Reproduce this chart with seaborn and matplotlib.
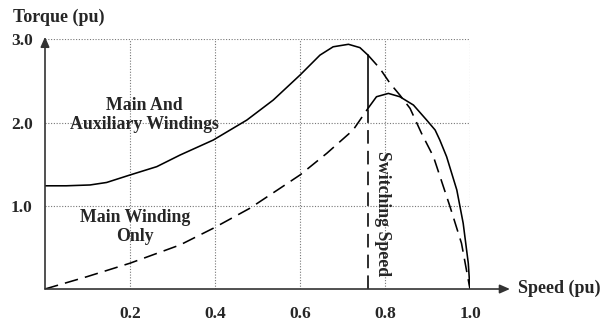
import numpy as np
import pandas as pd
import matplotlib
matplotlib.use("Agg")
import matplotlib.pyplot as plt
import seaborn as sns

# Torque-speed curves of a capacitor-start single-phase motor (per unit)
switch_speed = 0.76

# Main + auxiliary windings, up to the switching speed
both_speed = [0.0, 0.05, 0.106, 0.145, 0.2, 0.263, 0.318, 0.396, 0.475, 0.537,
              0.6, 0.647, 0.678, 0.714, 0.741, 0.76]
both_torque = [1.24, 1.24, 1.25, 1.28, 1.37, 1.47, 1.61, 1.79, 2.03, 2.27,
               2.57, 2.81, 2.91, 2.94, 2.90, 2.81]

# Main winding only, after switching (solid branch)
after_speed = [0.76, 0.78, 0.808, 0.835, 0.867, 0.898, 0.918, 0.929, 0.945,
               0.969, 0.984, 0.996, 1.0]
after_torque = [2.17, 2.31, 2.35, 2.31, 2.21, 2.03, 1.91, 1.79, 1.59,
                1.19, 0.79, 0.31, 0.0]

# Main winding only, dashed branch below the switching speed
main_lo_speed = [0.0, 0.1, 0.2, 0.318, 0.396, 0.482, 0.553, 0.6, 0.663,
                 0.725, 0.76]
main_lo_torque = [0.0, 0.15, 0.31, 0.53, 0.73, 0.97, 1.21, 1.37, 1.63,
                  1.91, 2.17]

# Main winding only, dashed branch above the switching speed
main_hi_speed = [0.76, 0.788, 0.812, 0.835, 0.859, 0.886, 0.914, 0.953, 0.98, 1.0]
main_hi_torque = [2.81, 2.65, 2.47, 2.33, 2.17, 1.87, 1.59, 0.99, 0.55, 0.0]

x_ticks = [0.2, 0.4, 0.6, 0.8, 1.0]
x_tick_labels = ["0.2", "0.4", "0.6", "0.8", "1.0"]
y_ticks = [1.0, 2.0, 3.0]
y_tick_labels = ["1.0", "2.0", "3.0"]

sns.set_theme(style="white")
plt.rcParams["font.family"] = ["Liberation Serif", "DejaVu Serif"]
plt.rcParams["font.weight"] = "bold"

fig = plt.figure(figsize=(6.0, 3.24), dpi=100)
ax = fig.add_axes([0.075, 0.108, 0.7083, 0.7707])
ax.set_xlim(0, 1.0)
ax.set_ylim(0, 3.0)

lw = 1.15
dash = (0, (8.5, 4.5))

sns.lineplot(x=both_speed, y=both_torque, ax=ax, color="black", lw=lw,
             sort=False, estimator=None)
sns.lineplot(x=after_speed, y=after_torque, ax=ax, color="black", lw=lw,
             sort=False, estimator=None)
sns.lineplot(x=main_lo_speed, y=main_lo_torque, ax=ax, color="black", lw=lw,
             linestyle=dash, sort=False, estimator=None)
sns.lineplot(x=main_hi_speed, y=main_hi_torque, ax=ax, color="black", lw=lw,
             linestyle=dash, sort=False, estimator=None)

# Drop in torque when the auxiliary winding is cut out
ax.plot([switch_speed, switch_speed], [both_torque[-1], after_torque[0]],
        color="black", lw=lw)
# Switching-speed marker
ax.plot([switch_speed, switch_speed], [0, after_torque[0]],
        color="black", lw=lw, linestyle=dash)

# Dotted grid
for xv in x_ticks:
    ax.plot([xv, xv], [0, 3.0], color="#777777", lw=0.8, linestyle=(0, (1, 1.5)),
            zorder=0)
for yv in y_ticks:
    ax.plot([0, 1.0], [yv, yv], color="#777777", lw=0.8, linestyle=(0, (1, 1.5)),
            zorder=0)

sns.despine(ax=ax, left=True, bottom=True, top=True, right=True)
ax.set_xticks(x_ticks)
ax.set_xticklabels(x_tick_labels, fontsize=12.5, fontweight="bold")
ax.set_yticks(y_ticks)
ax.set_yticklabels(y_tick_labels, fontsize=12.5, fontweight="bold")
ax.tick_params(axis="x", length=0, pad=12)
ax.tick_params(axis="y", length=0, pad=9)
ax.set_xlabel("")
ax.set_ylabel("")

# Arrowed axes
arrow_kw = dict(arrowstyle="-|>,head_length=0.5,head_width=0.22", color="#333333",
                lw=1.2, shrinkA=0, shrinkB=0)
ax.annotate("", xy=(1.094, 0), xytext=(0, 0), xycoords="data",
            arrowprops=arrow_kw, annotation_clip=False)
ax.annotate("", xy=(0, 3.03), xytext=(0, 0), xycoords="data",
            arrowprops=arrow_kw, annotation_clip=False)

fig.text(13 / 600, 1 - 17 / 324, "Torque (pu)", fontsize=13, fontweight="bold",
         ha="left", va="center")
fig.text(518 / 600, 1 - 288 / 324, "Speed (pu)", fontsize=13, fontweight="bold",
         ha="left", va="center")

ax.text(0.234, 2.09, "Main And\nAuxiliary Windings", fontsize=12.8,
        fontweight="bold", ha="center", va="center", linespacing=1.1)
ax.text(0.212, 0.745, "Main Winding\nOnly", fontsize=12.8,
        fontweight="bold", ha="center", va="center", linespacing=1.1)
ax.text(0.795, 0.91, "Switching Speed", fontsize=12.8, fontweight="bold",
        rotation=270, ha="center", va="center")

fig.savefig("out.png", dpi=100)
